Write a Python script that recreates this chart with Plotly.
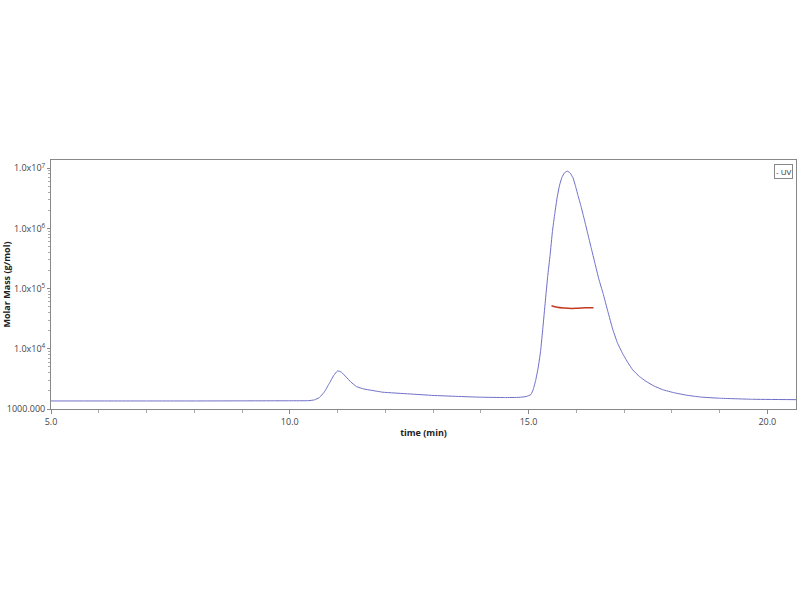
import plotly.graph_objects as go

# UV trace (time in min, plotted on the molar-mass log axis)
uv_time = [5.0, 6.0, 7.0, 8.0, 9.0, 10.0, 10.4, 10.52, 10.62, 10.72, 10.82, 10.92, 11.0, 11.08,
           11.18, 11.28, 11.4, 11.55, 11.7, 11.95, 12.5, 13.0, 13.5, 14.0, 14.5, 14.8, 14.95,
           15.05, 15.1, 15.15, 15.2, 15.25, 15.3, 15.35, 15.4, 15.45, 15.5, 15.55, 15.6, 15.65,
           15.7, 15.75, 15.81, 15.87, 15.93, 15.98, 16.03, 16.1, 16.17, 16.24, 16.31, 16.39,
           16.47, 16.56, 16.66, 16.76, 16.86, 16.97, 17.08, 17.18, 17.32, 17.46, 17.63, 17.81,
           18.05, 18.3, 18.6, 19.0, 19.69, 20.6]
uv_mass = [1360, 1360, 1360, 1360, 1365, 1370, 1375, 1420, 1550, 1900, 2600, 3600, 4300, 4100,
           3400, 2800, 2350, 2150, 2050, 1900, 1780, 1680, 1620, 1570, 1550, 1560, 1610,
           1740, 2140, 3020, 4790, 8910, 22400, 60300, 158000, 355000, 891000, 1780000, 3310000, 5250000,
           7080000, 8320000, 8910000, 8320000, 6920000, 5130000, 3630000, 2290000, 1380000, 813000, 479000, 263000,
           145000, 83200, 41700, 21400, 12600, 8320, 5890, 4470, 3470, 2880, 2400, 2090,
           1860, 1700, 1580, 1510, 1450, 1430]

# Molar mass trace across the main peak
mm_time = [15.48, 15.6, 15.75, 15.9, 16.05, 16.2, 16.36]
mm_mass = [52000, 49000, 47500, 46800, 47300, 47800, 47900]

y_tickvals = [1000, 1e4, 1e5, 1e6, 1e7]
y_ticktext = ["1000.000", "1.0x10<sup>4</sup>", "1.0x10<sup>5</sup>", "1.0x10<sup>6</sup>", "1.0x10<sup>7</sup>"]
x_tickvals = [5, 10, 15, 20]
x_ticktext = ["5.0", "10.0", "15.0", "20.0"]

minor_y = [m * 10 ** e for e in range(3, 7) for m in range(2, 10)]

fig = go.Figure()
fig.add_trace(go.Scatter(x=uv_time, y=uv_mass, mode="lines", name="UV",
                         line=dict(color="#6e6ec8", width=1, shape="spline", smoothing=0.3)))
fig.add_trace(go.Scatter(x=mm_time, y=mm_mass, mode="lines", name="Molar Mass",
                         line=dict(color="#c43a1e", width=1.5, shape="spline")))

font = "Open Sans, Noto Sans, DejaVu Sans, sans-serif"
fig.update_layout(
    width=800, height=600,
    margin=dict(l=51, r=4, t=160, b=191),
    paper_bgcolor="white", plot_bgcolor="white",
    font=dict(family=font, size=9, color="#333333"),
    showlegend=False,
    xaxis=dict(range=[5, 20.6], tickvals=x_tickvals, ticktext=x_ticktext, automargin=False,
               showgrid=False, zeroline=False, showline=True, linecolor="#888888", linewidth=1,
               mirror=True, ticks="outside", ticklen=4, tickcolor="#888888",
               minor=dict(tickvals=list(range(6, 21)), ticks="outside", ticklen=3, tickcolor="#aaaaaa"),
               title=dict(text="<b>time (min)</b>", font=dict(size=9, color="#222222"), standoff=2),
               tickfont=dict(size=9, color="#444444")),
    yaxis=dict(type="log", range=[3, 7.135], tickvals=y_tickvals, ticktext=y_ticktext, automargin=False,
               showgrid=False, zeroline=False, showline=True, linecolor="#888888", linewidth=1,
               mirror=True, ticks="outside", ticklen=3, tickcolor="#888888",
               minor=dict(tickvals=minor_y, ticks="outside", ticklen=2, tickcolor="#aaaaaa"),
               title=dict(text="<b>Molar Mass (g/mol)</b>", font=dict(size=9, color="#222222"), standoff=0),
               tickfont=dict(size=9, color="#444444")),
    annotations=[dict(text="- UV", xref="paper", yref="paper", x=0.996, y=0.985,
                      xanchor="right", yanchor="top", showarrow=False,
                      font=dict(size=8, color="#333333"), bordercolor="#888888",
                      borderwidth=1, borderpad=1, bgcolor="white")],
)

fig.write_html("out.html", config={"displayModeBar": False},
               post_script="document.body.style.margin='0';document.body.style.overflow='hidden';")
